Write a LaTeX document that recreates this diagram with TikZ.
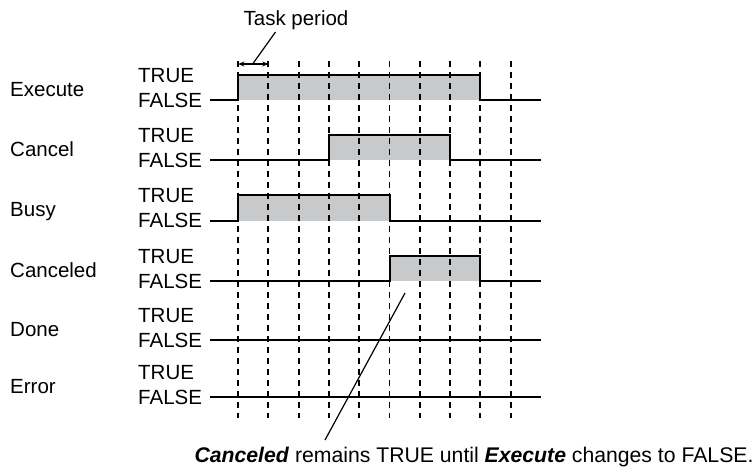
\documentclass[tikz,border=0pt]{standalone}
\usepackage{fontspec}
\setmainfont{Liberation Sans}
\usetikzlibrary{arrows.meta}
\definecolor{sigfill}{RGB}{200,201,203}
\begin{document}
\begin{tikzpicture}[x=1pt,y=-1pt,
  lbl/.style={anchor=base west,inner sep=0pt,font=\fontsize{20.5}{24}\selectfont},
  sig/.style={line width=2pt,line join=miter},
  grid/.style={line width=1.9pt,dash pattern=on 6pt off 5pt},
  lead/.style={line width=1.2pt}]
\useasboundingbox (0,0) rectangle (755,472);
\def\xL{210}\def\xR{541}\def\hh{25.5}
% x positions of ticks
\foreach \i in {0,...,9}{\coordinate (t\i) at ({238+30.3*\i},0);}
% rows: name, FALSE y
\foreach \nm/\yy/\k in {Execute/100/1,Cancel/160/2,Busy/220.5/3,Canceled/281/4,Done/340/5,Error/397/6}{
  \node[lbl] (name\k) at (10,\yy-11+7.3) {\nm};
  \node[lbl] (tru\k) at (138,\yy-25+7.3) {TRUE};
  \node[lbl] (fal\k) at (138,\yy+7.3) {FALSE};
}
% fills
\foreach \a/\b/\yy in {0/8/100,3/7/160,0/5/220.5,5/8/281}{
  \fill[sigfill] (t\a |- 0,\yy) rectangle ({238+30.3*\b},\yy-\hh);
}
% dashed time grid
\foreach \i in {0,...,9}{\draw[grid] ({238+30.3*\i},61) -- ({238+30.3*\i},418);}
% signals
\foreach \a/\b/\yy in {0/8/100,3/7/160,0/5/220.5,5/8/281}{
  \draw[sig] (\xL,\yy) -- ({238+30.3*\a},\yy) -- ({238+30.3*\a},\yy-\hh) -- ({238+30.3*\b},\yy-\hh) -- ({238+30.3*\b},\yy) -- (\xR,\yy);
}
\foreach \yy in {340,397}{\draw[sig] (\xL,\yy) -- (\xR,\yy);}
% task period
\node[lbl,anchor=center] (task) at (296,20) {Task period};
\coordinate (pa) at (238.3,64);
\coordinate (pb) at (268.3,64);
\draw[lead,{Stealth[length=6pt,width=5pt]}-{Stealth[length=6pt,width=5pt]}] (pa) -- (pb);
\coordinate (tp0) at (275.5,32);
\coordinate (tp1) at (253,63.5);
\draw[lead] (tp0) -- (tp1);
% annotation
\coordinate (an0) at (405,293);
\coordinate (an1) at (325,440);
\draw[lead] (an0) -- (an1);
\node[lbl,anchor=center,font=\fontsize{21.2}{25}\selectfont] (note) at (474,457.5) {\textbf{\textit{Canceled}} remains TRUE until \textbf{\textit{Execute}} changes to FALSE.};
\end{tikzpicture}
\end{document}
